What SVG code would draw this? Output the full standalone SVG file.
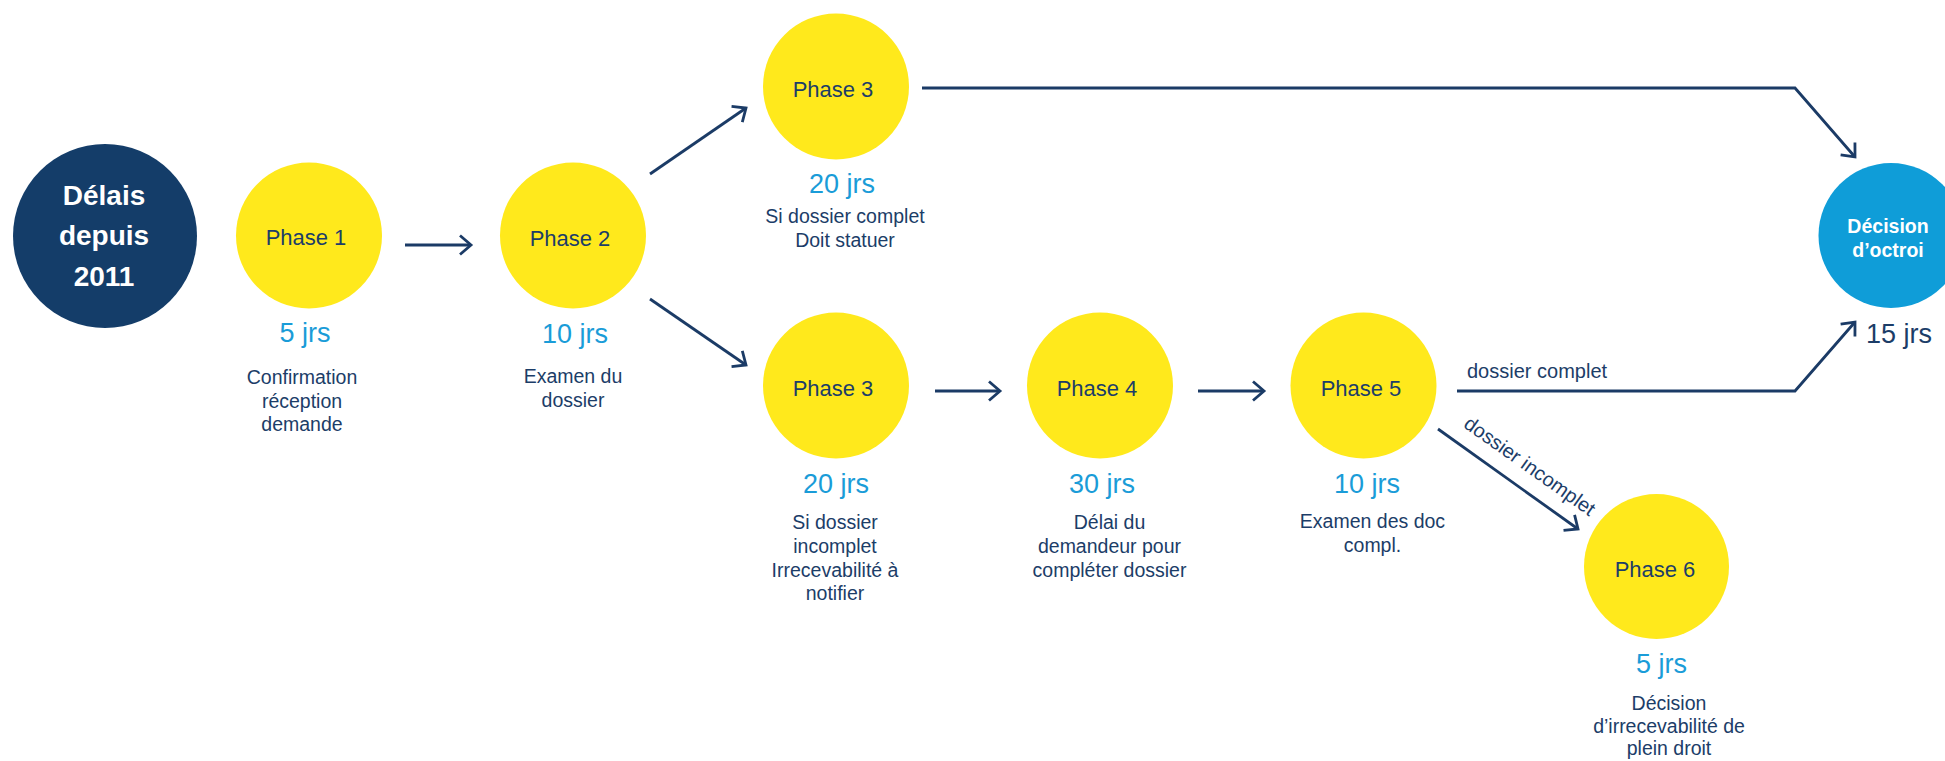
<svg xmlns="http://www.w3.org/2000/svg" width="1945" height="761" viewBox="0 0 1945 761">
<defs>
<style>
.bg{fill:#ffffff}
.ph{fill:#ffe91c}
.dark{fill:#143d69}
.dec{fill:#0f9dd8}
.lbl{font-family:"Liberation Sans",Arial,sans-serif;font-size:22px;fill:#1c3d68;text-anchor:middle}
.num{font-family:"Liberation Sans",Arial,sans-serif;font-size:27px;fill:#1a9cd8;text-anchor:middle}
.desc{font-family:"Liberation Sans",Arial,sans-serif;font-size:19.5px;fill:#1c3d68;text-anchor:middle}
.bold{font-family:"Liberation Sans",Arial,sans-serif;font-weight:bold;fill:#ffffff;text-anchor:middle}
.edge{fill:none;stroke:#1b3b66;stroke-width:2.8;marker-end:url(#arr)}
.elbl{font-family:"Liberation Sans",Arial,sans-serif;font-size:20px;fill:#1c3d68}
</style>
<marker id="arr" markerUnits="userSpaceOnUse" markerWidth="30" markerHeight="30" viewBox="-15 -15 30 30" refX="0" refY="0" orient="auto">
<path d="M -11 -9.5 L 0 0 L -11 9.5" fill="none" stroke="#1b3b66" stroke-width="2.8"/>
</marker>
</defs>
<rect class="bg" x="0" y="0" width="1945" height="761"/>

<g id="connectors">
<path class="edge" d="M 405 245 L 471 245"/>
<path class="edge" d="M 650 174 L 746 108"/>
<path class="edge" d="M 650 299 L 746 365"/>
<path class="edge" d="M 922 88 L 1795 88 L 1855 157"/>
<path class="edge" d="M 935 391 L 1000 391"/>
<path class="edge" d="M 1198 391 L 1264 391"/>
<path class="edge" d="M 1457 391 L 1795 391 L 1855 322"/>
<path class="edge" d="M 1438 429 L 1578 529"/>
<text class="elbl" x="1467" y="378">dossier complet</text>
<text class="elbl" x="1462.5" y="426.5" transform="rotate(35.4 1462.5 426.5)">dossier incomplet</text>
</g>

<g id="start">
<circle class="dark" cx="105" cy="236" r="92"/>
<text class="bold" font-size="28" x="104" y="205">Délais</text>
<text class="bold" font-size="28" x="104" y="245">depuis</text>
<text class="bold" font-size="28" x="104" y="286">2011</text>
</g>

<g id="phase1">
<circle class="ph" cx="309" cy="235.5" r="73"/>
<text class="lbl" x="306" y="245">Phase 1</text>
<text class="num" x="305" y="342">5 jrs</text>
<text class="desc" x="302" y="384">Confirmation</text>
<text class="desc" x="302" y="407.5">réception</text>
<text class="desc" x="302" y="431">demande</text>
</g>

<g id="phase2">
<circle class="ph" cx="573" cy="235.5" r="73"/>
<text class="lbl" x="570" y="246">Phase 2</text>
<text class="num" x="575" y="342.5">10 jrs</text>
<text class="desc" x="573" y="383">Examen du</text>
<text class="desc" x="573" y="407">dossier</text>
</g>

<g id="phase3a">
<circle class="ph" cx="836" cy="86.5" r="73"/>
<text class="lbl" x="833" y="97">Phase 3</text>
<text class="num" x="842" y="193">20 jrs</text>
<text class="desc" x="845" y="223">Si dossier complet</text>
<text class="desc" x="845" y="247">Doit statuer</text>
</g>

<g id="phase3b">
<circle class="ph" cx="836" cy="385.5" r="73"/>
<text class="lbl" x="833" y="396">Phase 3</text>
<text class="num" x="836" y="493">20 jrs</text>
<text class="desc" x="835" y="529">Si dossier</text>
<text class="desc" x="835" y="553">incomplet</text>
<text class="desc" x="835" y="577">Irrecevabilité à</text>
<text class="desc" x="835" y="600">notifier</text>
</g>

<g id="phase4">
<circle class="ph" cx="1100" cy="385.5" r="73"/>
<text class="lbl" x="1097" y="396">Phase 4</text>
<text class="num" x="1102" y="493">30 jrs</text>
<text class="desc" x="1109.5" y="529">Délai du</text>
<text class="desc" x="1109.5" y="553">demandeur pour</text>
<text class="desc" x="1109.5" y="577">compléter dossier</text>
</g>

<g id="phase5">
<circle class="ph" cx="1363.5" cy="385.5" r="73"/>
<text class="lbl" x="1361" y="396">Phase 5</text>
<text class="num" x="1367" y="492.5">10 jrs</text>
<text class="desc" x="1372.5" y="528">Examen des doc</text>
<text class="desc" x="1372.5" y="551.5">compl.</text>
</g>

<g id="phase6">
<circle class="ph" cx="1656.5" cy="566.5" r="72.5"/>
<text class="lbl" x="1655" y="576.5">Phase 6</text>
<text class="num" x="1661.5" y="673">5 jrs</text>
<text class="desc" x="1669" y="710">Décision</text>
<text class="desc" x="1669" y="732.5">d’irrecevabilité de</text>
<text class="desc" x="1669" y="755">plein droit</text>
</g>

<g id="decision">
<circle class="dec" cx="1891" cy="235.5" r="72.5"/>
<text class="bold" font-size="19.5" x="1888" y="232.5">Décision</text>
<text class="bold" font-size="19.5" x="1888" y="256.5">d’octroi</text>
<text x="1866" y="342.5" style="font-family:'Liberation Sans',Arial,sans-serif;font-size:27px;fill:#1c3d68">15 jrs</text>
</g>
</svg>
